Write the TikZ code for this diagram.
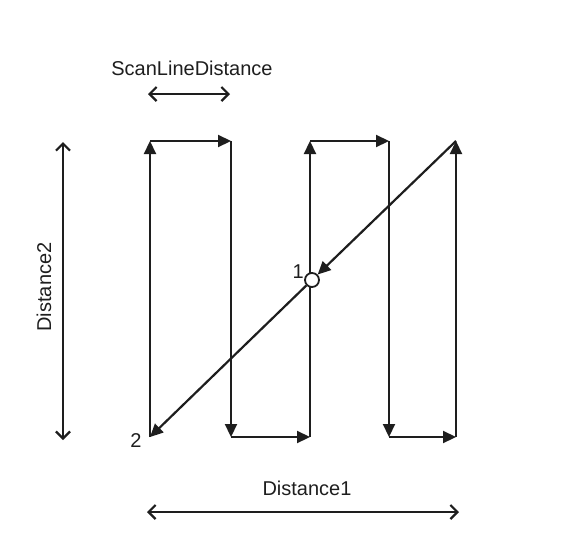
\documentclass[tikz,border=0pt]{standalone}
\usepackage{fontspec}
\setmainfont{Liberation Sans}
\usetikzlibrary{arrows.meta}
\definecolor{LineDark}{HTML}{1E1E1E}

\begin{document}
\begin{tikzpicture}[x=1pt, y=-1pt,
  scanline/.style={draw=LineDark, line width=2.2pt, -{Triangle[length=13pt, width=12pt]}},
  dimline/.style={draw=LineDark, line width=2.2pt,
    {Straight Barb[length=7pt, width=14pt]}-{Straight Barb[length=7pt, width=14pt]}},
  lbl/.style={font=\fontsize{20}{24}\selectfont, inner sep=0pt, text=LineDark}]

  \useasboundingbox (0,0) rectangle (571,533);

  % Spaltenpunkte oben/unten
  \foreach \k/\x in {1/150,2/231,3/310,4/389,5/456} {
    \coordinate (t\k) at (\x,141);
    \coordinate (b\k) at (\x,437);
  }

  % Mäander-Bahn
  \draw[scanline] (b1) -- (t1);
  \draw[scanline] (t1) -- (t2);
  \draw[scanline] (t2) -- (b2);
  \draw[scanline] (b2) -- (b3);
  \draw[scanline] (b3) -- (t3);
  \draw[scanline] (t3) -- (t4);
  \draw[scanline] (t4) -- (b4);
  \draw[scanline] (b4) -- (b5);
  \draw[scanline] (b5) -- (t5);

  % Rückweg diagonal über Punkt 1
  \node[circle, draw=LineDark, fill=white, line width=1.8pt, minimum size=14pt, inner sep=0pt] (p1) at (312,280) {};
  \draw[scanline] (t5) -- (p1);
  \draw[scanline] (p1) -- (b1);
  \node[lbl, anchor=east] (n1) at (304,272) {1};
  \node[lbl] (n2) at (136,441) {2};

  % Bemaßung
  \coordinate (s1) at (148,94);
  \coordinate (s2) at (230,94);
  \draw[dimline] (s1) -- (s2);
  \node[lbl] (scan) at (192,68) {ScanLineDistance};

  \coordinate (v1) at (63,142);
  \coordinate (v2) at (63,440);
  \draw[dimline] (v1) -- (v2);
  \node[lbl, rotate=90] (dist2) at (44,287) {Distance2};

  \coordinate (h1) at (147,512);
  \coordinate (h2) at (459,512);
  \draw[dimline] (h1) -- (h2);
  \node[lbl] (dist1) at (307,488) {Distance1};

\end{tikzpicture}
\end{document}
